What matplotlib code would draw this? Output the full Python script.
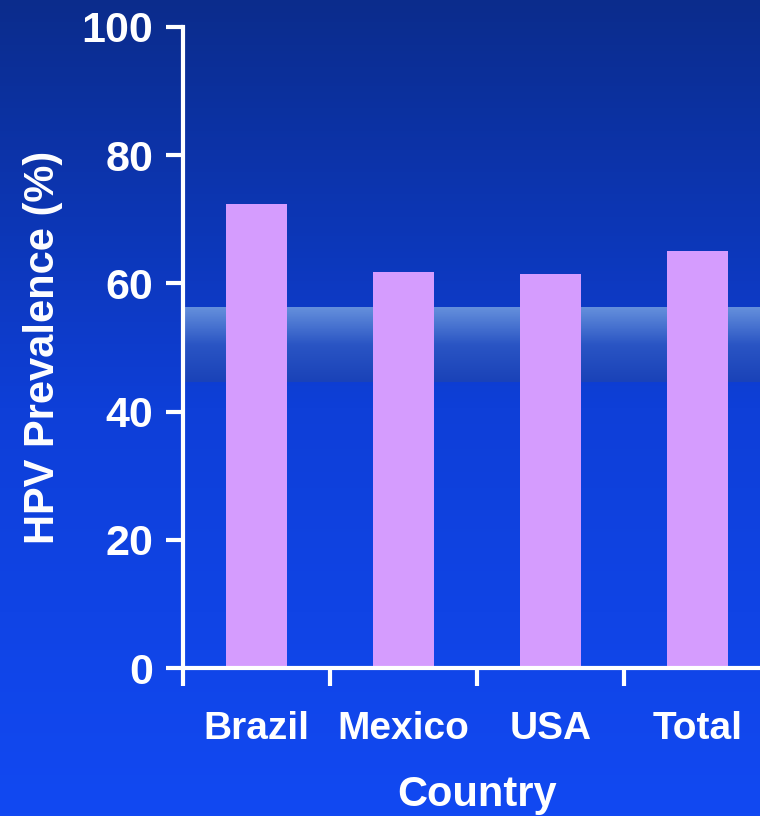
import numpy as np
import matplotlib
matplotlib.use("Agg")
import matplotlib.pyplot as plt
from matplotlib.colors import LinearSegmentedColormap

plt.rcParams['font.family'] = ['Liberation Sans', 'DejaVu Sans']
plt.rcParams['font.weight'] = 'bold'

# HPV prevalence by country
countries = ['Brazil', 'Mexico', 'USA', 'Total']
prevalence = [72.4, 61.8, 61.5, 65.1]
yticks = [0, 20, 40, 60, 80, 100]

fig = plt.figure(figsize=(7.6, 8.16), dpi=100)

# background: vertical blue gradient over the whole figure
bg = fig.add_axes([0, 0, 1, 1], zorder=0)
bg_cmap = LinearSegmentedColormap.from_list('bg', ['#1249f2', '#0e3fd8', '#0b2c8c'])
bg.imshow(np.linspace(0, 1, 256).reshape(-1, 1), cmap=bg_cmap, aspect='auto',
          extent=[0, 1, 0, 1], origin='lower')
bg.set_axis_off()

ax = fig.add_axes([183 / 760, 1 - 668 / 816, 588 / 760, 641 / 816], zorder=1)
ax.patch.set_alpha(0)
x = np.arange(len(countries))
ax.set_xlim(-0.5, len(countries) - 0.5)
ax.set_ylim(0, 100)

# shaded highlight band behind the bars
band_cmap = LinearSegmentedColormap.from_list('band', ['#1a42b8', '#2a55c4', '#6590dc'])
ax.imshow(np.linspace(0, 1, 128).reshape(-1, 1), cmap=band_cmap, aspect='auto',
          extent=[-0.5, len(countries) - 0.5, 44.6, 56.2], origin='lower', zorder=1)

ax.bar(x, prevalence, width=0.41, color='#d59cfe', zorder=2)

for side in ['top', 'right']:
    ax.spines[side].set_visible(False)
for side in ['left', 'bottom']:
    ax.spines[side].set_color('white')
    ax.spines[side].set_linewidth(3)

ax.set_yticks(yticks)
ax.set_yticklabels([str(v) for v in yticks], fontsize=31, color='white')
ax.tick_params(axis='y', length=12, width=3, color='white', pad=9.5)

ax.set_xticks(np.arange(len(countries) + 1) - 0.5)
ax.set_xticklabels([])
ax.set_xticks(x, minor=True)
ax.set_xticklabels(countries, minor=True, fontsize=28, color='white')
ax.tick_params(axis='x', which='major', length=13, width=3, color='white')
ax.tick_params(axis='x', which='minor', length=0, pad=31)

ax.set_xlabel('Country', fontsize=30, fontweight='bold', color='white', labelpad=20)
ax.set_ylabel('HPV Prevalence (%)', fontsize=30, fontweight='bold', color='white',
              labelpad=13)

fig.savefig('out.png', dpi=100)
